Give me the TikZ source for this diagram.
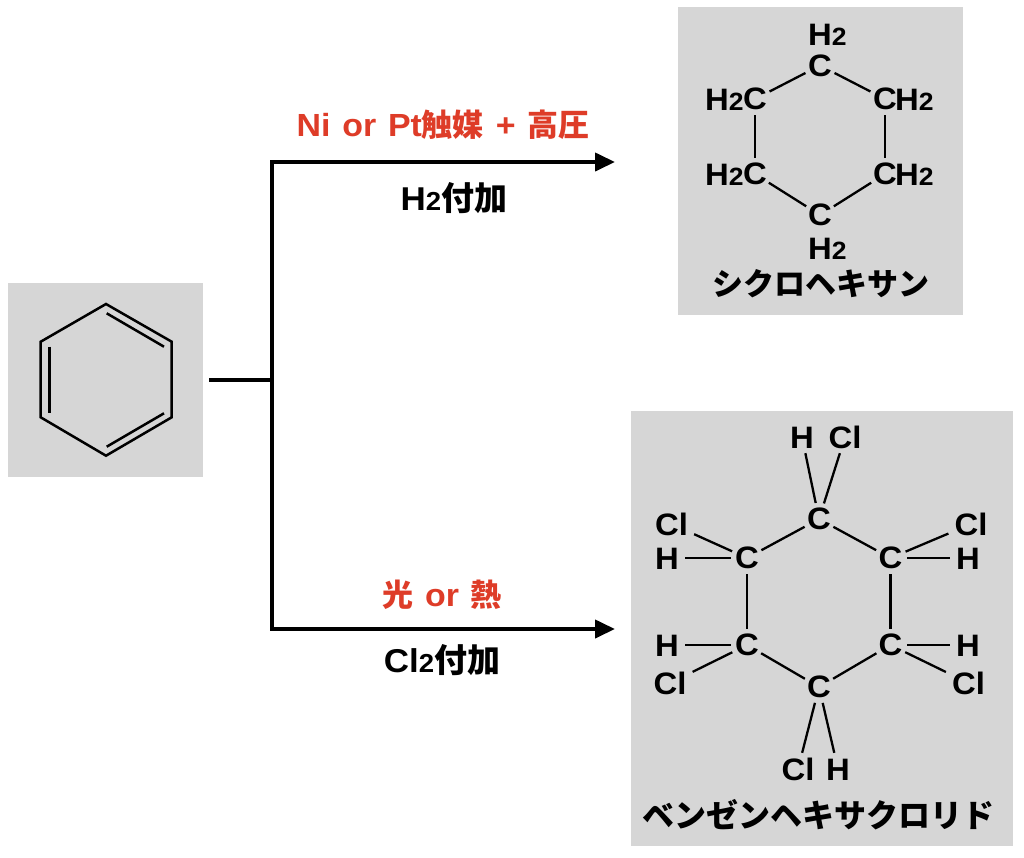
\documentclass[tikz,border=0pt]{standalone}
\usepackage{fontspec}
\setmainfont{Liberation Sans}[FakeStretch=1.06,WordSpace=1.25]
\newfontfamily\jp{Noto Sans CJK JP}
\usetikzlibrary{arrows.meta}
\definecolor{boxgray}{RGB}{214,214,214}
\definecolor{redlab}{RGB}{222,60,40}
\newcommand\subtwo[1]{{\fontsize{25}{25}\selectfont #1}}
\newcommand\bigsubtwo[1]{{\fontsize{26}{26}\selectfont #1}}
\begin{document}
\begin{tikzpicture}[x=1pt,y=-1pt,
  box/.style={fill=boxgray,draw=none,inner sep=0pt},
  catom/.style={circle,inner sep=0pt,minimum size=32pt,font=\fontsize{31}{31}\selectfont\bfseries},
  satom/.style={inner xsep=6pt,inner ysep=5pt,text height=22pt,text depth=0pt,font=\fontsize{31}{31}\selectfont\bfseries},
  hlab/.style={inner sep=0pt,text height=22pt,text depth=0pt,font=\fontsize{31}{31}\selectfont\bfseries},
  jname/.style={inner sep=0pt,font=\fontsize{31}{31}\selectfont\jp\bfseries},
  bond/.style={line width=2.3pt},
  ring/.style={line width=2.5pt,line join=miter},
  main/.style={line width=4pt},
  arr/.style={line width=4pt,-{Triangle[length=20pt,width=18pt]}},
  redtxt/.style={inner sep=0pt,text=redlab,font=\fontsize{32}{32}\selectfont\bfseries},
  blktxt/.style={inner sep=0pt,font=\fontsize{33}{33}\selectfont\bfseries},
]
\useasboundingbox (0,0) rectangle (1024,857);
\fill[white] (0,0) rectangle (1024,857);

% ---------- benzene ----------
\node[box,minimum width=195pt,minimum height=194pt] (benz) at (105.5,380) {};
\draw[ring] (106,304) -- (40.7,341.7) -- (40.7,417.3) -- (106,455.7) -- (171.7,417.3) -- (171.7,341.7) -- cycle;
\draw[ring] (49.3,346.7) -- (49.3,413.3);
\draw[ring] (106.7,313.3) -- (164,346.7);
\draw[ring] (164,413.3) -- (106.7,446.7);

% ---------- reaction arrows ----------
\coordinate (j) at (272,380);
\coordinate (t1) at (615,162);
\coordinate (t2) at (615,629);
\draw[main,shorten <=6pt] (benz.east) -- (j);
\draw[arr] (j) |- (t1);
\draw[arr] (j) |- (t2);

\node[redtxt] (cond1) at (443,125) {Ni or Pt{\jp\fontsize{31}{31}\selectfont 触媒} + {\jp\fontsize{31}{31}\selectfont 高圧}};
\node[blktxt] (add1) at (454,198) {H\bigsubtwo{2}{\jp 付加}};
\node[redtxt] (cond2) at (442,595) {{\jp\fontsize{31}{31}\selectfont 光} or {\jp\fontsize{31}{31}\selectfont 熱}};
\node[blktxt] (add2) at (442,660) {Cl\bigsubtwo{2}{\jp 付加}};

% ---------- cyclohexane ----------
\node[box,minimum width=285pt,minimum height=308pt] (cycbox) at (820.5,161) {};
\node[catom] (a1) at (820,65.5) {C};
\node[catom] (a2) at (755,99) {C};
\node[catom] (a3) at (885,99) {C};
\node[catom] (a4) at (755,174) {C};
\node[catom] (a5) at (885,174) {C};
\node[catom] (a6) at (820,215) {C};
\node[hlab,anchor=west] (h1) at (808,34) {H\subtwo{2}};
\node[hlab,anchor=west] (h2) at (705,99) {H\subtwo{2}};
\node[hlab,anchor=west] (h3) at (895,99) {H\subtwo{2}};
\node[hlab,anchor=west] (h4) at (705,174) {H\subtwo{2}};
\node[hlab,anchor=west] (h5) at (895,174) {H\subtwo{2}};
\node[hlab,anchor=west] (h6) at (808,248) {H\subtwo{2}};
\draw[bond] (a1) -- (a2);
\draw[bond] (a1) -- (a3);
\draw[bond] (a2) -- (a4);
\draw[bond] (a3) -- (a5);
\draw[bond] (a4) -- (a6);
\draw[bond] (a5) -- (a6);
\node[jname] (cycname) at (821,284) {シクロヘキサン};

% ---------- benzene hexachloride ----------
\node[box,minimum width=382pt,minimum height=435pt] (bhcbox) at (821.5,628.5) {};
\node[catom] (b1) at (819,519) {C};
\node[catom] (b2) at (747,558) {C};
\node[catom] (b3) at (890.5,558) {C};
\node[catom] (b4) at (747,645) {C};
\node[catom] (b5) at (890.5,645) {C};
\node[catom] (b6) at (819,687) {C};
\draw[bond] (b1) -- (b2);
\draw[bond] (b1) -- (b3);
\draw[bond] (b2) -- (b4);
\draw[bond] (b3) -- (b5);
\draw[bond] (b4) -- (b6);
\draw[bond] (b5) -- (b6);
% substituents
\node[satom] (s1h) at (802,437) {H};
\node[satom] (s1c) at (845,437) {Cl};
\node[satom] (s2c) at (671.5,524) {Cl};
\node[satom] (s2h) at (667,558) {H};
\node[satom] (s3c) at (971,524) {Cl};
\node[satom] (s3h) at (968,558) {H};
\node[satom] (s4h) at (667,645) {H};
\node[satom] (s4c) at (670,683) {Cl};
\node[satom] (s5h) at (968,645) {H};
\node[satom] (s5c) at (968.5,683) {Cl};
\node[satom] (s6c) at (798,769) {Cl};
\node[satom] (s6h) at (838,769) {H};
\draw[bond] (s1h) -- (b1);
\draw[bond] (s1c) -- (b1);
\draw[bond] (s2c) -- (b2);
\draw[bond] (s2h) -- (b2);
\draw[bond] (s3c) -- (b3);
\draw[bond] (s3h) -- (b3);
\draw[bond] (s4h) -- (b4);
\draw[bond] (s4c) -- (b4);
\draw[bond] (s5h) -- (b5);
\draw[bond] (s5c) -- (b5);
\draw[bond] (s6c) -- (b6);
\draw[bond] (s6h) -- (b6);
\node[jname,font=\fontsize{32}{32}\selectfont\jp\bfseries] (bhcname) at (818,815) {ベンゼンヘキサクロリド};
\end{tikzpicture}
\end{document}
